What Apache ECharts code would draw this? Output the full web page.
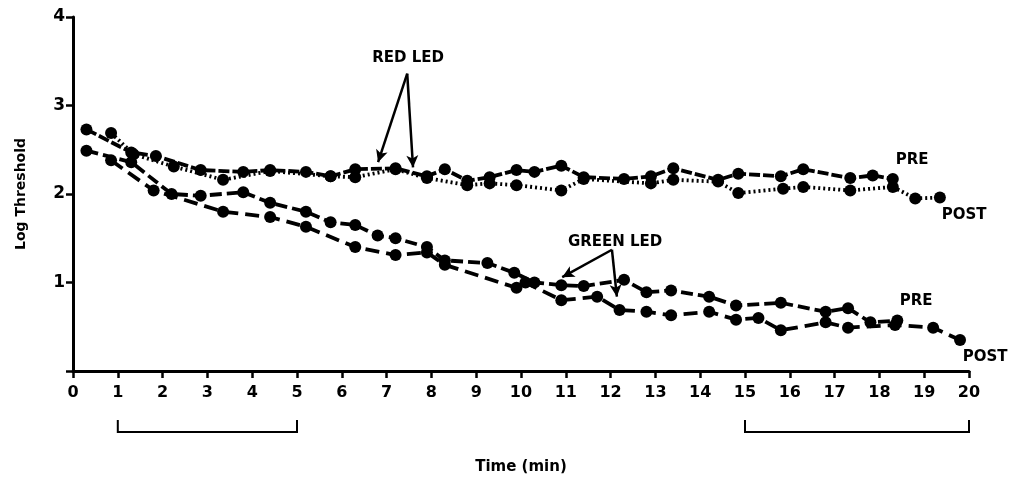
<!DOCTYPE html>
<html><head><meta charset="utf-8">
<script src="https://cdn.jsdelivr.net/npm/echarts@6/dist/echarts.min.js"></script>
<style>html,body{margin:0;padding:0;background:#fff}#c{width:1012px;height:488px}</style>
</head><body><div id="c"></div>
<script>
var xTicks = [0,1,2,3,4,5,6,7,8,9,10,11,12,13,14,15,16,17,18,19,20];
var yTicks = [1,2,3,4];
var redPre = [[0.3,2.73],[1.3,2.47],[1.85,2.43],[2.85,2.27],[3.8,2.25],[4.4,2.27],[5.2,2.25],[5.75,2.2],[6.3,2.28],[7.2,2.29],[7.9,2.2],[8.3,2.28],[8.8,2.15],[9.3,2.19],[9.9,2.27],[10.3,2.25],[10.9,2.32],[11.4,2.19],[12.3,2.17],[12.9,2.2],[13.4,2.29],[14.4,2.16],[14.85,2.23],[15.8,2.2],[16.3,2.28],[17.35,2.18],[17.85,2.21],[18.3,2.17]];
var redPost = [[0.85,2.69],[1.35,2.45],[2.25,2.31],[3.35,2.16],[4.4,2.26],[5.75,2.2],[6.3,2.19],[7.2,2.28],[7.9,2.18],[8.8,2.1],[9.3,2.12],[9.9,2.1],[10.9,2.04],[11.4,2.17],[12.9,2.12],[13.4,2.16],[14.4,2.14],[14.85,2.01],[15.85,2.06],[16.3,2.08],[17.35,2.04],[18.3,2.08],[18.8,1.95],[19.35,1.96]];
var greenPre = [[0.3,2.49],[1.3,2.36],[2.2,2.0],[2.85,1.98],[3.8,2.02],[4.4,1.9],[5.2,1.8],[5.75,1.68],[6.3,1.65],[6.8,1.53],[7.2,1.5],[7.9,1.4],[8.3,1.25],[9.25,1.22],[9.85,1.11],[10.3,1.0],[10.9,0.97],[11.4,0.96],[12.3,1.03],[12.8,0.89],[13.35,0.91],[14.2,0.84],[14.8,0.74],[15.8,0.77],[16.8,0.67],[17.3,0.71],[17.8,0.55],[18.4,0.57]];
var greenPost = [[0.85,2.38],[1.8,2.04],[3.35,1.8],[4.4,1.74],[5.2,1.63],[6.3,1.4],[7.2,1.31],[7.9,1.34],[8.3,1.2],[9.9,0.94],[10.1,1.0],[10.9,0.8],[11.7,0.84],[12.2,0.69],[12.8,0.67],[13.35,0.63],[14.2,0.67],[14.8,0.58],[15.3,0.6],[15.8,0.46],[16.8,0.55],[17.3,0.49],[18.35,0.52],[19.2,0.49],[19.8,0.35]];
// annotation texts (data coordinates)
var labels = [
  {text:'RED LED', x:7.48, y:3.53},
  {text:'GREEN LED', x:12.1, y:1.46},
  {text:'PRE', x:18.73, y:2.38},
  {text:'POST', x:19.89, y:1.76},
  {text:'PRE', x:18.82, y:0.79},
  {text:'POST', x:20.36, y:0.16}
];
var arrows = [
  [[7.46,3.36],[6.81,2.36]],
  [[7.46,3.36],[7.59,2.30]],
  [[12.03,1.37],[10.92,1.06]],
  [[12.03,1.37],[12.14,0.84]]
];
var brackets = [[1,5],[15,20]];

var FONT = '"DejaVu Sans", sans-serif';
function mkSeries(data, dash){
  return {type:'line', data:data, symbol:'circle', symbolSize:12,
    itemStyle:{color:'#000'}, lineStyle:{color:'#000', width:3.8, type:dash},
    z:3, silent:true, animation:false};
}
var chart = echarts.init(document.getElementById('c'), null, {renderer:'canvas'});
var arrowSeries = {type:'line', data:[], silent:true, animation:false,
  markLine:{silent:true, animation:false, symbol:['none','arrow'], symbolSize:[9,12],
    label:{show:false}, lineStyle:{color:'#000', width:2.5, type:'solid'},
    data: arrows.map(function(a){return [{coord:a[0]},{coord:a[1]}];})}};
chart.setOption({
  animation:false,
  grid:{left:73, right:43, top:17, bottom:117},
  xAxis:{type:'value', min:0, max:20, interval:1,
    axisLine:{lineStyle:{color:'#000', width:3}},
    axisTick:{show:true, length:7, lineStyle:{color:'#000', width:2.5}},
    axisLabel:{color:'#000', fontFamily:FONT, fontWeight:'bold', fontSize:16, margin:14,
      formatter:function(v){return xTicks.indexOf(v)>=0? String(v):'';}},
    splitLine:{show:false},
    name:'Time (min)', nameLocation:'middle', nameGap:89,
    nameTextStyle:{color:'#000', fontFamily:FONT, fontWeight:'bold', fontSize:15}},
  yAxis:{type:'value', min:0, max:4, interval:1,
    axisLine:{lineStyle:{color:'#000', width:3}},
    axisTick:{show:true, length:7, lineStyle:{color:'#000', width:2.5}},
    axisLabel:{color:'#000', fontFamily:FONT, fontWeight:'bold', fontSize:17, margin:8,
      formatter:function(v){return yTicks.indexOf(v)>=0? String(v):'';}},
    splitLine:{show:false},
    name:'Log Threshold', nameLocation:'middle', nameGap:45,
    nameTextStyle:{color:'#000', fontFamily:FONT, fontWeight:'bold', fontSize:14}},
  series:[
    mkSeries(redPre, [11,3]),
    mkSeries(redPost, [2,3]),
    mkSeries(greenPre, [12,5]),
    mkSeries(greenPost, [14,7]),
    arrowSeries
  ]
});
var g = [];
labels.forEach(function(l){
  var p = chart.convertToPixel({gridIndex:0}, [l.x, l.y]);
  g.push({type:'text', x:p[0], y:p[1], silent:true,
    style:{text:l.text, fill:'#000', font:'bold 15px '+FONT, textAlign:'center', textVerticalAlign:'middle'}});
});
brackets.forEach(function(b){
  var p0 = chart.convertToPixel({gridIndex:0}, [b[0], 0]);
  var p1 = chart.convertToPixel({gridIndex:0}, [b[1], 0]);
  var yb = p0[1] + 61, yt = p0[1] + 49;
  g.push({type:'polyline', silent:true,
    shape:{points:[[p0[0],yt],[p0[0],yb],[p1[0],yb],[p1[0],yt]]},
    style:{stroke:'#000', lineWidth:2, fill:null}});
});
chart.setOption({graphic:g});
</script>
</body></html>
